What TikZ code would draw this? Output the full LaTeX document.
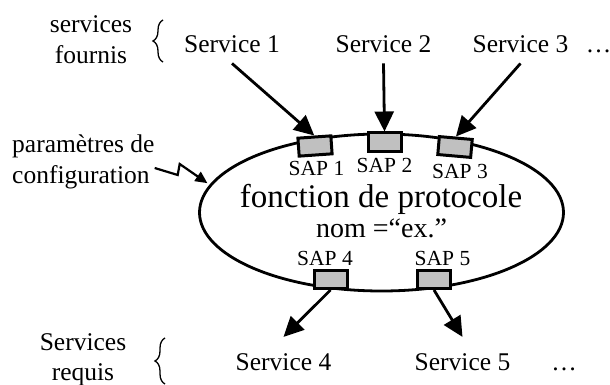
\documentclass[tikz,border=0pt]{standalone}
\usepackage{fontspec}
\setmainfont{Liberation Serif}
\usetikzlibrary{arrows.meta,shapes.geometric,decorations.pathreplacing}
\definecolor{sapGray}{RGB}{192,192,192}
\newcommand{\labelFont}[0]{\fontsize{25.5}{30.5}\selectfont}
\newcommand{\sapFont}[0]{\fontsize{21.5}{25}\selectfont}

\begin{document}
\begin{tikzpicture}[x=1pt, y=-1pt]
  \tikzset{
    txt/.style={inner sep=0pt, font=\labelFont},
    sapbox/.style={draw, line width=3pt, fill=sapGray, minimum width=33pt, minimum height=18pt, inner sep=0pt},
    saplabel/.style={inner sep=0pt, anchor=base, font=\sapFont},
    arr/.style={line width=2.8pt, -{Triangle[length=20pt,width=19pt]}},
    zigzag/.style={line width=2.2pt, -{Triangle[length=12pt,width=11pt]}},
    accolade/.style={line width=1.3pt, decorate, decoration={brace, amplitude=10pt}}
  }
  \useasboundingbox (0,0) rectangle (610,385);
  \node[draw, ellipse, line width=2.8pt, minimum width=364pt, minimum height=157pt, inner sep=0pt, outer sep=0pt] (fp) at (381.5,212.5) {};
  \node[inner sep=0pt, anchor=base, font=\fontsize{33}{38}\selectfont] (fname) at (381,207) {fonction de protocole};
  \node[inner sep=0pt, anchor=base, font=\fontsize{28}{32}\selectfont] (fnom) at (381.5,237) {nom =``ex.''};
  \node[sapbox, rotate=4] (sap1) at (315,146) {};
  \node[sapbox] (sap2) at (384.5,142) {};
  \node[sapbox, rotate=-5] (sap3) at (455,147) {};
  \node[sapbox] (sap4) at (330.5,279.5) {};
  \node[sapbox] (sap5) at (434,279.5) {};
  \node[saplabel] (sapl1) at (316.5,175) {SAP 1};
  \node[saplabel] (sapl2) at (384.5,172) {SAP 2};
  \node[saplabel] (sapl3) at (460,178) {SAP 3};
  \node[saplabel] (sapl4) at (325,265) {SAP 4};
  \node[saplabel] (sapl5) at (442.5,265) {SAP 5};
  \node[txt, anchor=base] (s1) at (232,53) {Service 1};
  \node[txt, anchor=base] (s2) at (383.5,53) {Service 2};
  \node[txt, anchor=base] (s3) at (520.5,53) {Service 3};
  \node[txt, anchor=base] (more1) at (598.5,53) {…};
  \node[txt, anchor=base] (s4) at (283.5,370) {Service 4};
  \node[txt, anchor=base] (s5) at (462.5,370) {Service 5};
  \node[txt, anchor=base] (more2) at (564,370) {…};
  \node[txt, align=center] (fournis) at (91,39.5) {services\\fournis};
  \node[txt, align=center] (requis) at (83,360) {Services\\requis};
  \node[txt, align=left, anchor=west] (param) at (12,162) {paramètres de\\configuration};
  \draw[accolade] (163,62) -- (163,20);
  \draw[accolade] (165,384) -- (165,338);
  \draw[arr] ([yshift=-10pt]s1.south) -- (sap1.north);
  \draw[arr] ([yshift=-10pt]s2.south) -- (sap2.north);
  \draw[arr] ([yshift=-10pt]s3.south) -- (sap3.north);
  \draw[arr] (sap4.south) -- ([yshift=16pt]s4.north);
  \draw[arr] (sap5.south) -- ([yshift=16pt]s5.north);
  \draw[zigzag, shorten >=4pt] ([yshift=-6pt]param.east) -- ++(23,7) -- ++(2,-11) -- (fp.171);
\end{tikzpicture}
\end{document}
